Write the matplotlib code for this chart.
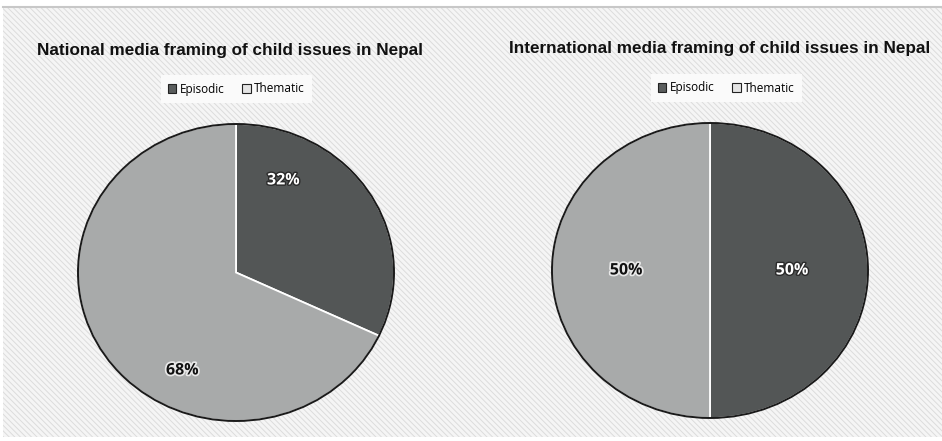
import matplotlib.pyplot as plt
from matplotlib.patches import Rectangle, Patch, Circle
from matplotlib.lines import Line2D
import matplotlib.patheffects as pe

# data
categories = ['Episodic', 'Thematic']
national = [32, 68]
international = [50, 50]
titles = ['National media framing of child issues in Nepal',
          'International media framing of child issues in Nepal']
slice_colors = ['#535656', '#a8aaaa']
legend_colors = ['#5a5d5d', '#e4e4e4']

# where the % labels sit inside each pie (axes data units)
label_pos_nat = [(0.30, 0.62), (-0.34, -0.66)]
label_pos_int = [(0.52, 0.0), (-0.53, 0.0)]

plt.rcParams['hatch.linewidth'] = 0.7

fig = plt.figure(figsize=(9.42, 4.41), dpi=100)

# hatched chart area background
bg = fig.add_axes([0, 0, 1, 1])
bg.set_xlim(0, 942)
bg.set_ylim(441, 0)
bg.axis('off')
bg.add_patch(Rectangle((3, 7), 939, 430, facecolor='#f5f5f5', edgecolor='#dcdcdc',
                       lw=0, hatch='\\\\\\\\\\\\'))
bg.add_line(Line2D([3, 942], [7, 7], color='#c8c8c8', lw=1.5))


def draw_pie(rect, values, title, label_pos, title_x, title_y, leg_y):
    ax = fig.add_axes(rect)
    wedges, _, autotexts = ax.pie(values, colors=slice_colors, startangle=90,
                                  counterclock=False, autopct='%d%%',
                                  wedgeprops=dict(edgecolor='white', linewidth=1.3))
    ax.set_aspect('auto')
    ax.set_xlim(-1, 1)
    ax.set_ylim(-1, 1)
    ax.add_patch(Circle((0, 0), 1.0, facecolor='none', edgecolor='#1a1a1a',
                        lw=1.4, zorder=5, clip_on=False))
    for i, t in enumerate(autotexts):
        t.set_position(label_pos[i])
        t.set_fontsize(11.5)
        t.set_fontweight('bold')
        t.set_fontfamily('Open Sans')
        if i == 0:
            t.set_color('white')
            t.set_path_effects([pe.withStroke(linewidth=2, foreground='#2a2a2a')])
        else:
            t.set_color('#111111')
            t.set_path_effects([pe.withStroke(linewidth=2.5, foreground='#e8e8e8')])

    fig.text(title_x, title_y, title, ha='center', va='center', fontsize=12.3,
             fontweight='bold', family='Liberation Sans', color='#111111')
    handles = [Patch(facecolor=c, edgecolor='#222222', lw=0.8) for c in legend_colors]
    fig.legend(handles, categories, loc='center', bbox_to_anchor=(title_x + 0.007, leg_y),
               ncol=2, frameon=True, fancybox=False, framealpha=1,
               facecolor='#fafafa', edgecolor='none', handlelength=0.7,
               handleheight=0.7, handletextpad=0.3, columnspacing=1.5,
               prop={'family': 'Open Sans', 'size': 8.5}, borderpad=0.6)


draw_pie([78 / 942, 20 / 441, 316 / 942, 297 / 441], national, titles[0],
         label_pos_nat, 230 / 942, 1 - 50 / 441, 1 - 89 / 441)
draw_pie([552 / 942, 23 / 441, 316 / 942, 295 / 441], international, titles[1],
         label_pos_int, 720 / 942, 1 - 48 / 441, 1 - 88 / 441)

fig.savefig('out.png', dpi=100)
